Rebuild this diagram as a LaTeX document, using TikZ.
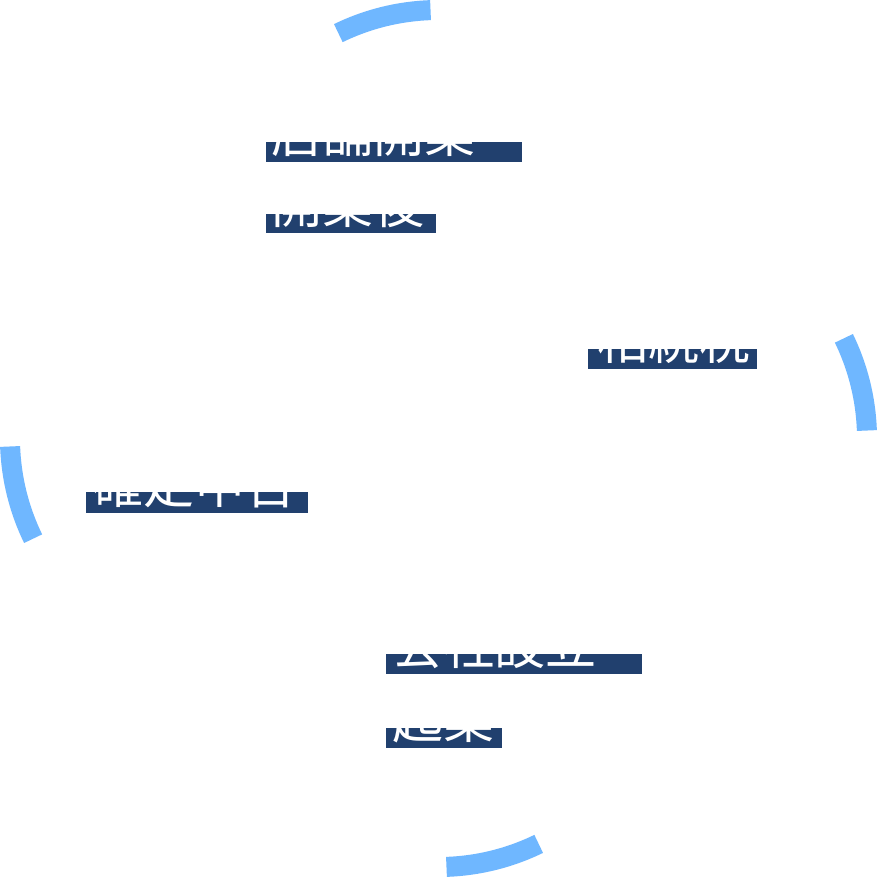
\documentclass[tikz,border=0pt]{standalone}
\usepackage{fontspec}
\newfontfamily\jpfont{Noto Sans CJK JP}
\definecolor{arcblue}{HTML}{6FB7FF}
\definecolor{barnavy}{HTML}{21406E}
\begin{document}
\begin{tikzpicture}[x=1pt,y=-1pt,
  arcst/.style={draw=arcblue,line width=20pt},
  barst/.style={fill=barnavy,draw=none,inner sep=0pt,outer sep=0pt,minimum height=20pt,anchor=north west},
  lbl/.style={anchor=base west,inner sep=0pt,text=white,font=\jpfont\fontsize{51}{51}\selectfont}]
\fill[white] (0,0) rectangle (878,878);
\useasboundingbox (0,0) rectangle (878,878);
% arcs
\draw[arcst] ([shift={(-92:228.5)}]438.5,238.5) arc[start angle=-92,end angle=-116,radius=228.5];
\draw[arcst] ([shift={(-2:228.5)}]638.5,438.5) arc[start angle=-2,end angle=-26,radius=228.5];
\draw[arcst] ([shift={(88:228.5)}]438.5,638.5) arc[start angle=88,end angle=64,radius=228.5];
\draw[arcst] ([shift={(178:228.5)}]238.5,438.5) arc[start angle=178,end angle=154,radius=228.5];
% bars
\node[barst,minimum width=256pt] (b1) at (266,142) {};
\node[barst,minimum width=170pt,minimum height=19pt] (b2) at (266,214) {};
\node[barst,minimum width=169pt] (b3) at (588,349) {};
\node[barst,minimum width=222pt,minimum height=21pt] (b4) at (86,492) {};
\node[barst,minimum width=256pt] (b5) at (386,654) {};
\node[barst,minimum width=116pt] (b6) at (386,728) {};
% labels
\node[lbl] (t1) at ([xshift=5pt,yshift=10pt]b1.south west) {店舗開業};
\node[lbl] (t2) at ([xshift=5pt,yshift=10pt]b2.south west) {開業後};
\node[lbl] (t3) at ([xshift=9pt,yshift=10pt]b3.south west) {相続税};
\node[lbl] (t4) at ([xshift=6pt,yshift=10pt]b4.south west) {確定申告};
\node[lbl] (t5) at ([xshift=6pt,yshift=10pt]b5.south west) {会社設立};
\node[lbl] (t6) at ([xshift=6pt,yshift=10pt]b6.south west) {起業};
\end{tikzpicture}
\end{document}
